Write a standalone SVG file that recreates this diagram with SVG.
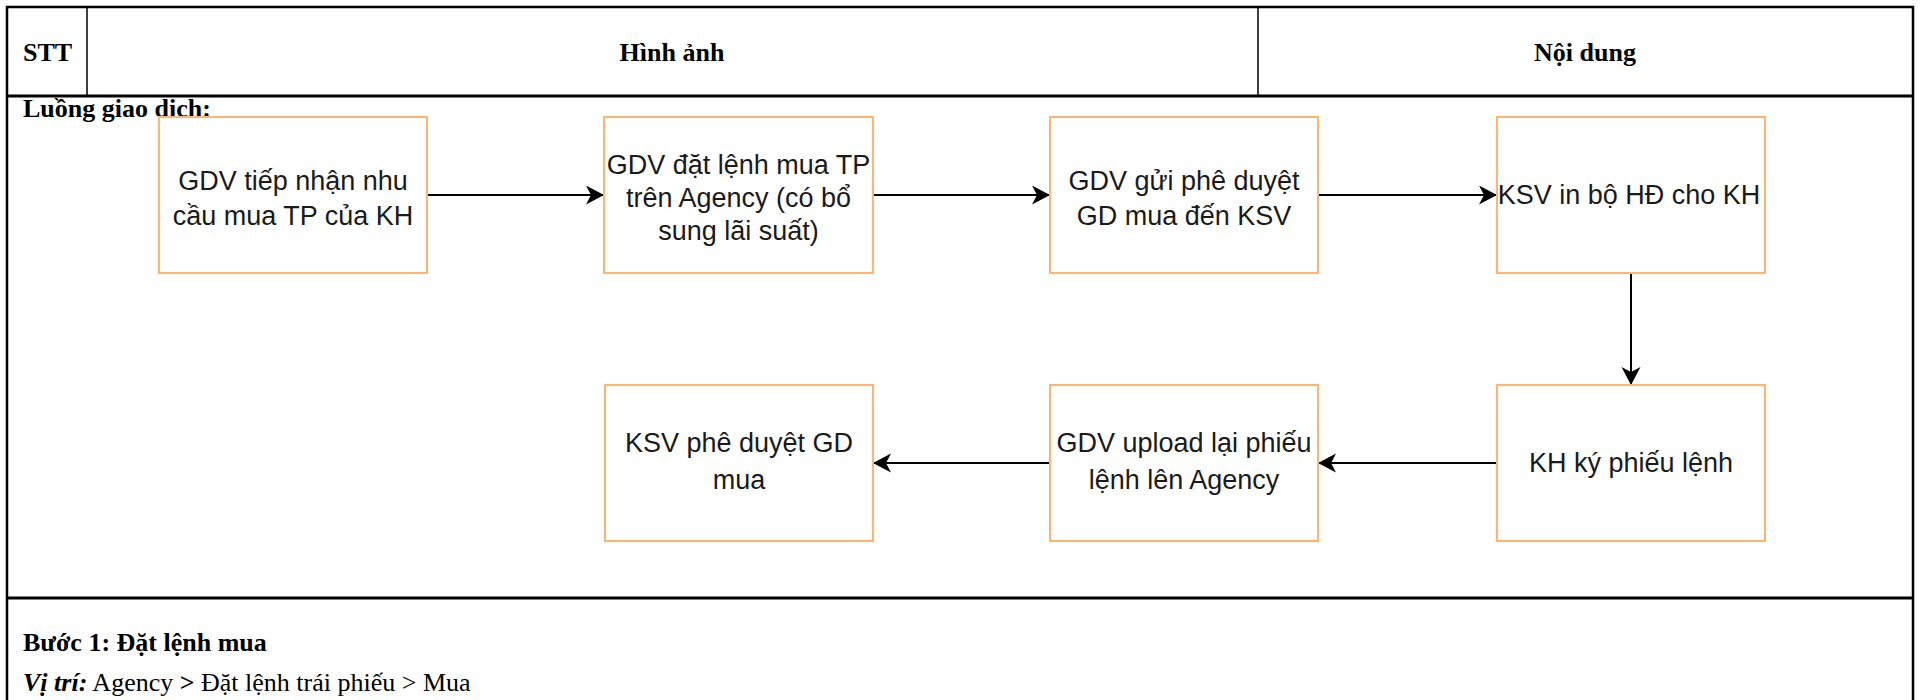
<svg xmlns="http://www.w3.org/2000/svg" width="1921" height="700" viewBox="0 0 1921 700">
<style>
.tbl{stroke:#000;fill:none}
.th{font-family:"Liberation Serif","Times New Roman",serif;font-size:26px;font-weight:bold;fill:#000}
.tx{font-family:"Liberation Serif","Times New Roman",serif;font-size:26px;fill:#000}
.box{fill:#fff;stroke:#FFB570;stroke-width:2}
.lbl{font-family:"Liberation Sans",Arial,Helvetica,sans-serif;font-size:27px;fill:#1a1a1a;text-anchor:middle}
.edge{stroke:#000;stroke-width:2;fill:none;marker-end:url(#arr)}
</style>
<defs>
<marker id="arr" markerUnits="userSpaceOnUse" markerWidth="20" markerHeight="20" refX="18" refY="9.5" orient="auto">
<path d="M0,0 L18,9.5 L0,19 L5,9.5 Z" fill="#000"/>
</marker>
</defs>
<rect width="1921" height="700" fill="#fff"/>
<g id="table">
<path class="tbl" stroke-width="2.5" d="M7,710 V7 H1913 V710"/>
<path class="tbl" stroke-width="3" d="M7,96 H1913"/>
<path class="tbl" stroke-width="3" d="M7,598 H1913"/>
<path class="tbl" stroke-width="1.5" d="M87,7 V96 M1258,7 V96"/>
<text class="th" x="23" y="61">STT</text>
<text class="th" x="672" y="61" text-anchor="middle">Hình ảnh</text>
<text class="th" x="1585" y="61" text-anchor="middle">Nội dung</text>
<text class="th" x="23" y="117">Luồng giao dịch:</text>
<text class="th" x="23" y="651">Bước 1: Đặt lệnh mua</text>
<text class="tx" x="23" y="691"><tspan font-weight="bold" font-style="italic">Vị trí:</tspan> Agency <tspan font-weight="bold">&gt;</tspan> Đặt lệnh trái phiếu &gt; Mua</text>
</g>
<g id="connectors">
<path class="edge" d="M427,195 H604"/>
<path class="edge" d="M873,195 H1050"/>
<path class="edge" d="M1318,195 H1497"/>
<path class="edge" d="M1631,273 V385"/>
<path class="edge" d="M1497,463 H1318"/>
<path class="edge" d="M1050,463 H873"/>
</g>
<g id="n1">
<rect class="box" x="159" y="117" width="268" height="156"/>
<text class="lbl" x="293" y="190">GDV tiếp nhận nhu</text>
<text class="lbl" x="293" y="225">cầu mua TP của KH</text>
</g>
<g id="n2">
<rect class="box" x="604" y="117" width="269" height="156"/>
<text class="lbl" x="738.5" y="174">GDV đặt lệnh mua TP</text>
<text class="lbl" x="738.5" y="207">trên Agency (có bổ</text>
<text class="lbl" x="738.5" y="240">sung lãi suất)</text>
</g>
<g id="n3">
<rect class="box" x="1050" y="117" width="268" height="156"/>
<text class="lbl" x="1184" y="190">GDV gửi phê duyệt</text>
<text class="lbl" x="1184" y="225">GD mua đến KSV</text>
</g>
<g id="n4">
<rect class="box" x="1497" y="117" width="268" height="156"/>
<text class="lbl" x="1629" y="204">KSV in bộ HĐ cho KH</text>
</g>
<g id="n5">
<rect class="box" x="1497" y="385" width="268" height="156"/>
<text class="lbl" x="1631" y="472">KH ký phiếu lệnh</text>
</g>
<g id="n6">
<rect class="box" x="1050" y="385" width="268" height="156"/>
<text class="lbl" x="1184" y="452">GDV upload lại phiếu</text>
<text class="lbl" x="1184" y="489">lệnh lên Agency</text>
</g>
<g id="n7">
<rect class="box" x="605" y="385" width="268" height="156"/>
<text class="lbl" x="739" y="452">KSV phê duyệt GD</text>
<text class="lbl" x="739" y="489">mua</text>
</g>
</svg>
